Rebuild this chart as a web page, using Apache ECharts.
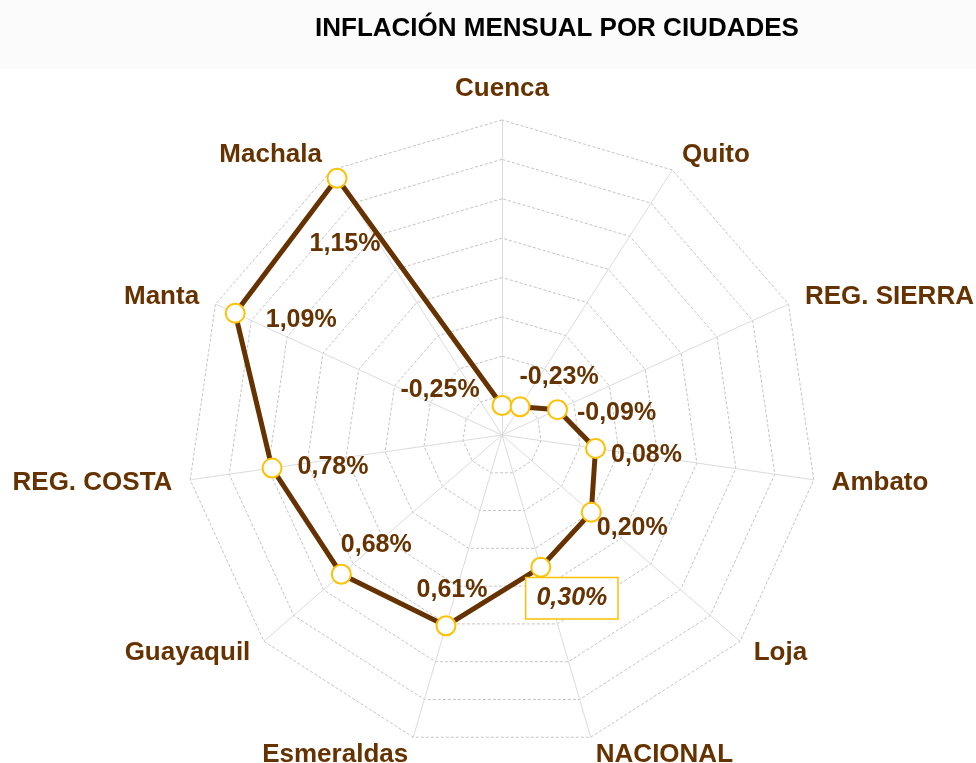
<!DOCTYPE html>
<html>
<head>
<meta charset="utf-8">
<script src="https://cdn.jsdelivr.net/npm/echarts@6/dist/echarts.min.js"></script>
<style>
html,body{margin:0;padding:0;background:#fff;}
#chart{width:976px;height:763px;}
</style>
</head>
<body>
<div id="chart"></div>
<script>
// Categories in clockwise order, starting at the top
const cities = ['Cuenca', 'Quito', 'REG. SIERRA', 'Ambato', 'Loja', 'NACIONAL',
                'Esmeraldas', 'Guayaquil', 'REG. COSTA', 'Manta', 'Machala'];
// Monthly inflation (%) per city
const inflation = [-0.25, -0.23, -0.09, 0.08, 0.20, 0.30, 0.61, 0.68, 0.78, 1.09, 1.15];
// Radial scale
const scaleMin = -0.4;
const scaleMax = 1.2;
const scaleSplits = 8;
const titleText = 'INFLACIÓN MENSUAL POR CIUDADES';
const highlighted = 'NACIONAL';

// Label placement (styling only, not data)
const labelOffsets = [[-62, -15], [39, -30], [59, 3], [51, 7], [41, 16], [31, 31],
                      [6, -36], [35, -29], [61, -1], [66, 7], [8, 66]];

const BROWN = '#663300';
const GOLD = '#FFC000';
const FONT = '"Liberation Sans", Arial, sans-serif';
const CENTER = [502, 435];
const RADIUS = 315;

function fmt(v) {
  return v.toFixed(2).replace('.', ',') + '%';
}

// radar indicators go counter-clockwise in ECharts, so reverse after the first
const radarOrder = [cities[0]].concat(cities.slice(1).reverse());

const lineData = cities.map(function (c, i) {
  const item = {
    value: [inflation[i], c],
    label: { offset: labelOffsets[i] }
  };
  if (c === highlighted) {
    item.label = {
      offset: labelOffsets[i],
      fontStyle: 'italic',
      backgroundColor: '#ffffff',
      borderColor: GOLD,
      borderWidth: 1.5,
      padding: [8, 10, 7, 10]
    };
  }
  return item;
});
// close the polygon back to the first city
lineData.push({ value: [inflation[0], cities[0]], symbol: 'none', label: { show: false } });

const chart = echarts.init(document.getElementById('chart'), null, { renderer: 'canvas' });
chart.setOption({
  animation: false,
  backgroundColor: '#ffffff',
  graphic: [{
    type: 'rect', left: 0, top: 0, z: 0,
    shape: { width: 976, height: 69 },
    style: { fill: '#fbfbfb' }
  }],
  title: {
    text: titleText,
    left: 310,
    top: 11,
    textStyle: { fontFamily: FONT, fontWeight: 'bold', fontSize: 26, color: '#000000' }
  },
  radar: {
    center: CENTER,
    radius: RADIUS,
    startAngle: 90,
    shape: 'polygon',
    splitNumber: scaleSplits,
    nameGap: 18,
    indicator: radarOrder.map(function (n) { return { name: n, min: scaleMin, max: scaleMax }; }),
    axisName: { color: BROWN, fontFamily: FONT, fontWeight: 'bold', fontSize: 26 },
    axisLine: { lineStyle: { color: '#dcdcdc', width: 1 } },
    splitLine: { lineStyle: { color: '#c4c4c4', width: 1, type: [3, 2] } },
    splitArea: { show: false },
    axisTick: { show: false },
    axisLabel: { show: false }
  },
  polar: { center: CENTER, radius: RADIUS },
  angleAxis: {
    type: 'category',
    data: cities,
    boundaryGap: true,
    // categories sit in the middle of their band: rotate so the first one is at the top
    startAngle: 90 + 180 / cities.length,
    clockwise: true,
    show: false,
    axisLine: { show: false }, axisTick: { show: false },
    axisLabel: { show: false }, splitLine: { show: false }
  },
  radiusAxis: {
    type: 'value',
    min: scaleMin,
    max: scaleMax,
    show: false,
    axisLine: { show: false }, axisTick: { show: false },
    axisLabel: { show: false }, splitLine: { show: false }
  },
  series: [{
    type: 'line',
    coordinateSystem: 'polar',
    data: lineData,
    clip: false,
    showAllSymbol: true,
    symbol: 'circle',
    symbolSize: 19,
    lineStyle: { color: BROWN, width: 5 },
    itemStyle: { color: '#ffffff', borderColor: GOLD, borderWidth: 2 },
    label: {
      show: true,
      position: 'inside',
      align: 'center',
      verticalAlign: 'middle',
      color: BROWN,
      fontFamily: FONT,
      fontWeight: 'bold',
      fontSize: 25,
      formatter: function (p) { return fmt(p.value[0]); }
    },
    emphasis: { disabled: true },
    z: 5
  }]
});
</script>
</body>
</html>
